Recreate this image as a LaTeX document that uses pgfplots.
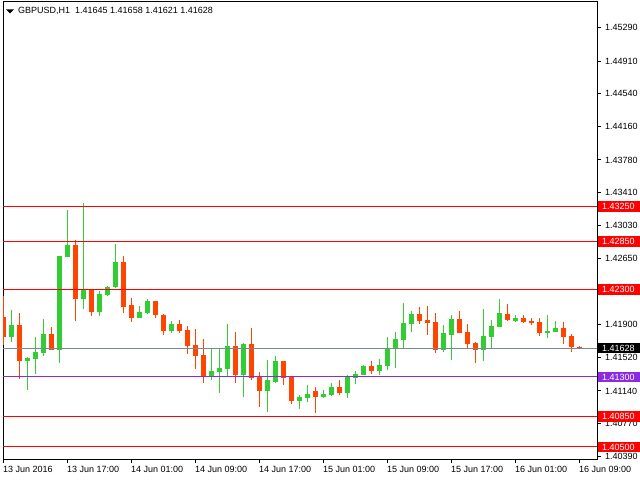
\documentclass[border=0pt]{standalone}
\usepackage{pgfplots}
\pgfplotsset{compat=1.18}
\usepackage{pgfplotstable}
\usepackage{fontspec}
\setmainfont{Liberation Sans}
\definecolor{bullc}{RGB}{50,205,50}
\definecolor{bearc}{RGB}{255,69,0}
\definecolor{lvl}{RGB}{255,0,0}
\definecolor{viol}{RGB}{138,43,226}
\definecolor{bidc}{RGB}{119,136,153}
\newcommand\mtfont{\fontsize{9bp}{10bp}\selectfont}
\tikzset{lbl/.style={anchor=west, fill=#1, text=white, font=\mtfont, inner xsep=4bp, inner ysep=0pt, minimum height=10.5bp, text width=34bp, xshift=1bp}}
\pgfplotsset{candle/.style n args={2}{draw=#1, color=#1, line width=#2, no markers, forget plot}}
\pgfplotstableread{
k O H L C
1 1.41760 1.42065 1.41703 1.41894
3 1.41486 1.41528 1.41155 1.41516
4 1.41509 1.41757 1.41337 1.41585
5 1.41577 1.41962 1.41543 1.41791
7 1.41612 1.42685 1.41463 1.42682
8 1.42675 1.43208 1.42672 1.42808
10 1.42195 1.43288 1.42080 1.42294
12 1.42046 1.42278 1.42000 1.42248
13 1.42240 1.42339 1.42229 1.42328
14 1.42328 1.42820 1.42317 1.42614
17 1.41977 1.42111 1.41975 1.42042
18 1.42031 1.42187 1.42019 1.42168
21 1.41829 1.41939 1.41806 1.41901
26 1.41307 1.41627 1.41269 1.41368
27 1.41360 1.41627 1.41120 1.41402
28 1.41395 1.41905 1.41307 1.41654
30 1.41322 1.41688 1.41074 1.41676
33 1.41143 1.41494 1.40903 1.41265
34 1.41242 1.41539 1.41235 1.41482
37 1.41029 1.41094 1.40937 1.41071
38 1.41063 1.41208 1.41017 1.41101
40 1.41074 1.41151 1.41063 1.41101
41 1.41097 1.41231 1.41086 1.41185
43 1.41120 1.41322 1.41063 1.41303
44 1.41292 1.41368 1.41223 1.41334
45 1.41326 1.41436 1.41324 1.41425
47 1.41372 1.41505 1.41326 1.41436
48 1.41429 1.41757 1.41383 1.41623
49 1.41623 1.41814 1.41406 1.41734
50 1.41726 1.42145 1.41631 1.41917
51 1.41909 1.42054 1.41817 1.42019
55 1.41612 1.41894 1.41589 1.41802
56 1.41783 1.42008 1.41497 1.41962
60 1.41612 1.42077 1.41486 1.41768
61 1.41757 1.41951 1.41631 1.41882
62 1.41875 1.42191 1.41873 1.42031
64 1.41943 1.42008 1.41932 1.41974
68 1.41806 1.42008 1.41749 1.41825
69 1.41817 1.41943 1.41815 1.41859
}\bull
\pgfplotstableread{
k O H L C
0 1.41985 1.42225 1.41669 1.41760
2 1.41894 1.42031 1.41280 1.41486
6 1.41791 1.41871 1.41608 1.41612
9 1.42808 1.42865 1.41943 1.42195
11 1.42294 1.42298 1.42000 1.42046
15 1.42614 1.42682 1.42035 1.42103
16 1.42122 1.42202 1.41932 1.41977
19 1.42168 1.42170 1.41977 1.42012
20 1.42008 1.42019 1.41783 1.41829
22 1.41905 1.41951 1.41806 1.41829
23 1.41837 1.41882 1.41566 1.41657
24 1.41665 1.41848 1.41395 1.41543
25 1.41551 1.41734 1.41235 1.41307
29 1.41654 1.41817 1.41235 1.41322
31 1.41676 1.41859 1.41269 1.41292
32 1.41303 1.41356 1.40960 1.41143
35 1.41482 1.41485 1.41212 1.41292
36 1.41303 1.41305 1.40995 1.41029
39 1.41139 1.41185 1.40892 1.41074
42 1.41185 1.41265 1.41097 1.41120
46 1.41425 1.41482 1.41337 1.41372
52 1.42019 1.42099 1.41909 1.41943
53 1.41951 1.42111 1.41783 1.41920
54 1.41928 1.42031 1.41577 1.41612
57 1.41962 1.42054 1.41804 1.41806
58 1.41814 1.41905 1.41631 1.41680
59 1.41688 1.41699 1.41463 1.41612
63 1.42019 1.42134 1.41939 1.41951
65 1.41974 1.42008 1.41917 1.41928
66 1.41939 1.41974 1.41897 1.41917
67 1.41928 1.41974 1.41772 1.41806
70 1.41859 1.41928 1.41680 1.41760
71 1.41768 1.41791 1.41589 1.41646
72 1.41645 1.41658 1.41621 1.41628
}\bear
\begin{document}
\begin{tikzpicture}
\path[use as bounding box, fill=white] (0,0) rectangle (640bp,480bp);
\begin{axis}[
  at={(3bp,21bp)}, anchor=south west,
  scale only axis, width=594bp, height=457bp,
  xmin=-0.0625, xmax=74.1875, ymin=1.40362, ymax=1.45586,
  clip mode=individual,
  axis line style={black, line width=1bp},
  tick style={black, line width=1bp},
  tick align=outside, major tick length=4bp,
  xtick pos=lower, ytick pos=upper, yticklabel pos=upper,
  xtick={0,8,...,72},
  xticklabels={13 Jun 2016,13 Jun 17:00,14 Jun 01:00,14 Jun 09:00,14 Jun 17:00,15 Jun 01:00,15 Jun 09:00,15 Jun 17:00,16 Jun 01:00,16 Jun 09:00},
  xticklabel style={anchor=north west, inner sep=0pt, font=\mtfont, yshift=-3bp, xshift=-0.5bp},
  ytick={1.40390,1.40770,1.41140,1.41520,1.41900,1.42270,1.42650,1.43030,1.43410,1.43780,1.44160,1.44540,1.44910,1.45290},
  yticklabels={1.40390,1.40770,1.41140,1.41520,1.41900,1.42270,1.42650,1.43030,1.43410,1.43780,1.44160,1.44540,1.44910,1.45290},
  yticklabel style={anchor=west, inner sep=0pt, font=\mtfont, xshift=4bp},
  scaled y ticks=false,
]
% wicks
\addplot[candle={bullc}{1bp}, quiver={u=0, v=\thisrow{H}-\thisrow{L}}] table[x=k, y=L] {\bull};
\addplot[candle={bearc}{1bp}, quiver={u=0, v=\thisrow{H}-\thisrow{L}}] table[x=k, y=L] {\bear};
% bodies
\addplot[candle={bullc}{5bp}, quiver={u=0, v=\thisrow{C}-\thisrow{O}}] table[x=k, y=O] {\bull};
\addplot[candle={bearc}{5bp}, quiver={u=0, v=\thisrow{O}-\thisrow{C}}] table[x=k, y=C] {\bear};
% levels
\addplot[lvl, line width=1bp] coordinates {(-1,1.43250) (80,1.43250)};
\addplot[lvl, line width=1bp] coordinates {(-1,1.42850) (80,1.42850)};
\addplot[lvl, line width=1bp] coordinates {(-1,1.42300) (80,1.42300)};
\addplot[lvl, line width=1bp] coordinates {(-1,1.40850) (80,1.40850)};
\addplot[lvl, line width=1bp] coordinates {(-1,1.40500) (80,1.40500)};
\addplot[viol, line width=1bp] coordinates {(-1,1.41300) (80,1.41300)};
\addplot[bidc, line width=1bp] coordinates {(-1,1.41628) (80,1.41628)};
\node[lbl=lvl] at (axis cs:74.1875,1.43250) {1.43250};
\node[lbl=lvl] at (axis cs:74.1875,1.42850) {1.42850};
\node[lbl=lvl] at (axis cs:74.1875,1.42300) {1.42300};
\node[lbl=lvl] at (axis cs:74.1875,1.40850) {1.40850};
\node[lbl=lvl] at (axis cs:74.1875,1.40500) {1.40500};
\node[lbl=viol] at (axis cs:74.1875,1.41300) {1.41300};
\node[lbl=black] at (axis cs:74.1875,1.41628) {1.41628};
\end{axis}
\fill (6bp,470.5bp) -- (14bp,470.5bp) -- (10bp,466.5bp) -- cycle;
\node[anchor=west, inner sep=0pt, font=\mtfont] at (18bp,469bp) {GBPUSD,H1\hspace{5bp}1.41645 1.41658 1.41621 1.41628};
\end{tikzpicture}
\end{document}
